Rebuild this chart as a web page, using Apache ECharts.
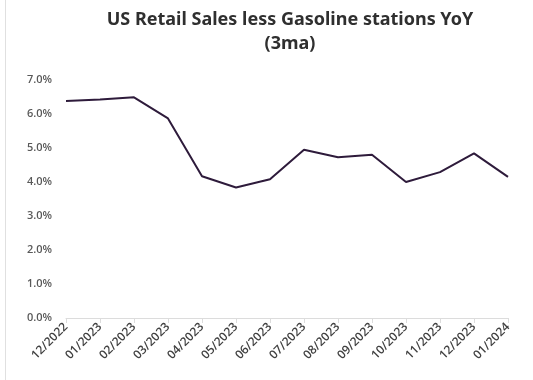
<!DOCTYPE html>
<html>
<head>
<meta charset="utf-8">
<script src="https://cdn.jsdelivr.net/npm/echarts@6/dist/echarts.min.js"></script>
<style>
  html, body { margin: 0; padding: 0; background: #fff; }
  #chart { width: 533px; height: 380px; }
</style>
</head>
<body>
<div id="chart"></div>
<script>
// months on the x axis
const months = ['12/2022', '01/2023', '02/2023', '03/2023', '04/2023', '05/2023', '06/2023',
    '07/2023', '08/2023', '09/2023', '10/2023', '11/2023', '12/2023', '01/2024'];
// retail sales less gasoline stations, YoY %, 3 month average
const salesYoY = [6.38, 6.43, 6.49, 5.87, 4.17, 3.84, 4.08, 4.95, 4.73, 4.8, 4.0, 4.29, 4.84, 4.15];

const myChart = echarts.init(document.getElementById('chart'));

myChart.setOption({
    animation: false,
    title: {
        text: 'US Retail Sales less Gasoline stations YoY\n(3ma)',
        left: 285,
        textAlign: 'center',
        top: 3,
        textStyle: {
            fontFamily: 'Noto Sans',
            fontSize: 18,
            fontWeight: 'bold',
            color: '#2f2f2f',
            lineHeight: 24
        }
    },
    // faint frame edge on the left, as in the source image
    graphic: [{
        type: 'line',
        shape: { x1: 5.5, y1: 0, x2: 5.5, y2: 380 },
        style: { stroke: '#e0e0e0', lineWidth: 1 }
    }],
    grid: {
        left: 66,
        right: 25,
        top: 80,
        bottom: 62
    },
    xAxis: {
        type: 'category',
        boundaryGap: false,
        data: months,
        axisLine: { lineStyle: { color: '#dcdcdc' } },
        axisTick: { show: true, alignWithLabel: true, lineStyle: { color: '#dcdcdc' } },
        axisLabel: {
            rotate: 45,
            interval: 0,
            fontFamily: 'Open Sans',
            fontSize: 12,
            fontWeight: 600,
            color: '#404040',
            margin: 7
        }
    },
    yAxis: {
        type: 'value',
        min: 0,
        max: 7,
        interval: 1,
        axisLine: { show: false },
        axisTick: { show: false },
        splitLine: { show: false },
        axisLabel: {
            formatter: v => v.toFixed(1) + '%',
            fontFamily: 'Open Sans',
            fontSize: 11,
            fontWeight: 600,
            color: '#595959',
            margin: 14
        }
    },
    series: [{
        type: 'line',
        data: salesYoY,
        symbol: 'none',
        lineStyle: { color: '#2e1b3b', width: 2 }
    }]
});
</script>
</body>
</html>
